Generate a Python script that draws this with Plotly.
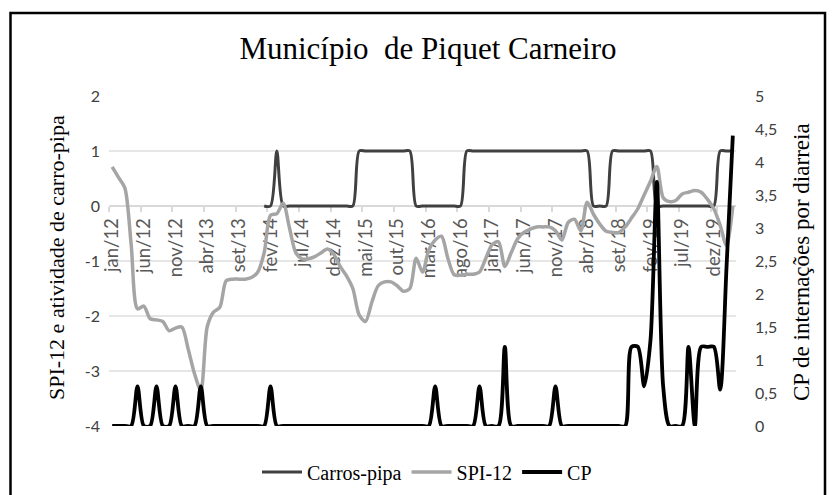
import plotly.graph_objects as go

# ---------------- data ----------------
month_names = ["jan", "fev", "mar", "abr", "mai", "jun", "jul", "ago", "set", "out", "nov", "dez"]
years = ["12", "13", "14", "15", "16", "17", "18", "19", "20"]
n_months = 99  # jan/12 .. mar/20
categories = [f"{month_names[k % 12]}/{years[k // 12]}" for k in range(n_months)]
tick_labels = categories[::5]

carros_pipa = [None] * 24 + [
    0, 0, 1,
    0, 0, 0, 0, 0, 0, 0, 0, 0, 0, 0, 0,
    1, 1, 1, 1, 1, 1, 1, 1, 1,
    0, 0, 0, 0, 0, 0, 0, 0,
    1, 1, 1, 1, 1, 1, 1, 1, 1, 1, 1, 1, 1, 1, 1, 1, 1, 1, 1, 1,
    0, 0, 0,
    1, 1, 1, 1, 1, 1, 1,
    0, 0, 0, 0, 0, 0, 0, 0, 0, 0,
    1, 1, 1,
]

spi_12 = [
    0.71, 0.52, 0.33, -0.70, -1.87, -1.82, -2.05, -2.07, -2.10, -2.27,
    -2.22, -2.20, -2.60, -3.05, -3.35, -2.20, -1.93, -1.84, -1.36, -1.33,
    -1.33, -1.33, -1.30, -1.20, -0.85, -0.17, -0.14, 0.05, -0.40, -0.85,
    -0.96, -0.96, -0.92, -0.85, -0.78, -0.88, -1.10, -1.27, -1.50, -1.98,
    -2.10, -1.75, -1.45, -1.38, -1.38, -1.45, -1.55, -1.50, -0.95, -1.20,
    -0.80, -0.62, -0.55, -0.95, -1.25, -1.26, -1.24, -1.24, -1.20, -0.95,
    -0.70, -0.65, -1.10, -0.85, -0.60, -0.48, -0.42, -0.38, -0.38, -0.38,
    -0.45, -0.62, -0.30, -0.24, -0.45, 0.07, -0.15, -0.33, -0.46, -0.48,
    -0.48, -0.38, -0.22, -0.05, 0.20, 0.45, 0.72, 0.15, 0.08, 0.10,
    0.22, 0.25, 0.28, 0.25, 0.12, -0.05, -0.35, -0.72, 0.00,
]

cp = [
    0, 0, 0, 0, 0.6, 0, 0, 0.6, 0, 0,
    0.6, 0, 0, 0, 0.6, 0, 0, 0, 0, 0,
    0, 0, 0, 0, 0, 0.6, 0, 0, 0, 0,
    0, 0, 0, 0, 0, 0, 0, 0, 0, 0,
    0, 0, 0, 0, 0, 0, 0, 0, 0, 0,
    0, 0.6, 0, 0, 0, 0, 0, 0, 0.6, 0,
    0, 0, 1.2, 0, 0, 0, 0, 0, 0, 0,
    0.6, 0, 0, 0, 0, 0, 0, 0, 0, 0,
    0, 0, 1.2, 1.2, 0.6, 1.3, 3.7, 0.6, 0, 0,
    0, 1.2, 0, 1.2, 1.2, 1.2, 0.55, 2.4, 4.4,
]

left_tick_vals = [-4, -3, -2, -1, 0, 1, 2]
left_tick_text = ["-4", "-3", "-2", "-1", "0", "1", "2"]
right_tick_vals = [0, 0.5, 1, 1.5, 2, 2.5, 3, 3.5, 4, 4.5, 5]
right_tick_text = ["0", "0,5", "1", "1,5", "2", "2,5", "3", "3,5", "4", "4,5", "5"]

title_text = "Município  de Piquet Carneiro"
left_title = "SPI-12 e atividade de carro-pipa"
right_title = "CP de internações por diarreia"

# ---------------- figure ----------------
SERIF = "Liberation Serif"
SANS = "Lato"
SMOOTH = 0.8

fig = go.Figure()
fig.add_trace(go.Scatter(
    x=categories, y=carros_pipa, name="Carros-pipa", mode="lines",
    line=dict(color="#404040", width=3, shape="spline", smoothing=SMOOTH),
    connectgaps=False,
))
fig.add_trace(go.Scatter(
    x=categories, y=spi_12, name="SPI-12", mode="lines",
    line=dict(color="#A5A5A5", width=3.5, shape="spline", smoothing=SMOOTH),
))
fig.add_trace(go.Scatter(
    x=categories, y=cp, name="CP", mode="lines", yaxis="y2",
    line=dict(color="#000000", width=3.8, shape="spline", smoothing=SMOOTH),
))

W, H = 832, 495
PX0, PX1, PY0, PY1 = 109, 736, 96, 426  # plot area in pixels
L, R = PX0, W - PX1
T, B = PY0, H - PY1
pw, ph = PX1 - PX0, PY1 - PY0


def px_x(x):
    return (x - PX0) / pw


def px_y(y):
    return (PY1 - y) / ph


fig.update_layout(
    width=W, height=H,
    margin=dict(l=L, r=R, t=T, b=B, pad=0, autoexpand=False),
    paper_bgcolor="white", plot_bgcolor="white",
    separators=", ",
    showlegend=True,
    title=dict(
        text=title_text, font=dict(family=SERIF, size=31, color="#000000"),
        x=px_x(428), xref="paper", xanchor="center",
        y=1 - 48 / H, yref="container", yanchor="middle",
    ),
    xaxis=dict(
        type="category", categoryorder="array", categoryarray=categories,
        range=[-0.5, n_months - 0.5],
        tickmode="array", tickvals=tick_labels, ticktext=tick_labels,
        tickangle=-90, tickson="boundaries",
        ticks="outside", ticklen=5, tickcolor="#D9D9D9", tickwidth=1.5,
        showline=True, linecolor="#D9D9D9", linewidth=1.5,
        showgrid=False, zeroline=False,
        anchor="free", position=2 / 3,
        tickfont=dict(family=SANS, size=18.5, color="#595959"),
        layer="below traces", automargin=False,
        ticklabelstandoff=4,
    ),
    yaxis=dict(
        range=[-4, 2], tickvals=left_tick_vals, ticktext=left_tick_text,
        showgrid=True, gridcolor="#E6E6E6", gridwidth=1.5,
        zeroline=False, showline=False, ticks="",
        tickfont=dict(family=SANS, size=16, color="#404040"),
        ticklabelstandoff=8, automargin=False,
        layer="below traces",
    ),
    yaxis2=dict(
        range=[0, 5], tickvals=right_tick_vals, ticktext=right_tick_text,
        overlaying="y", side="right",
        showgrid=False, zeroline=False, showline=False, ticks="",
        tickfont=dict(family=SANS, size=16, color="#404040"),
        ticklabelstandoff=18, automargin=False,
        layer="below traces",
    ),
    legend=dict(
        orientation="h", x=px_x(427), xanchor="center",
        y=px_y(472), yanchor="middle",
        font=dict(family=SERIF, size=20, color="#000000"),
        bgcolor="rgba(0,0,0,0)", itemwidth=40,
    ),
    annotations=[
        dict(text=left_title, xref="paper", yref="paper",
             x=px_x(56), y=px_y(258), xanchor="center", yanchor="middle",
             textangle=-90, showarrow=False,
             font=dict(family=SERIF, size=22, color="#000000")),
        dict(text=right_title, xref="paper", yref="paper",
             x=px_x(801), y=px_y(262), xanchor="center", yanchor="middle",
             textangle=-90, showarrow=False,
             font=dict(family=SERIF, size=23, color="#000000")),
    ],
    shapes=[
        dict(type="rect", xref="paper", yref="paper",
             x0=px_x(10.5), x1=px_x(825), y0=px_y(510), y1=px_y(13),
             line=dict(color="#000000", width=2.5), fillcolor="rgba(0,0,0,0)",
             layer="below"),
    ],
)

# remove the default 8px body margin so the 832x495 figure fills the window exactly
fig.write_html(
    "out.html",
    config={"displayModeBar": False},
    post_script="document.body.style.margin='0';document.body.style.overflow='hidden';",
)
